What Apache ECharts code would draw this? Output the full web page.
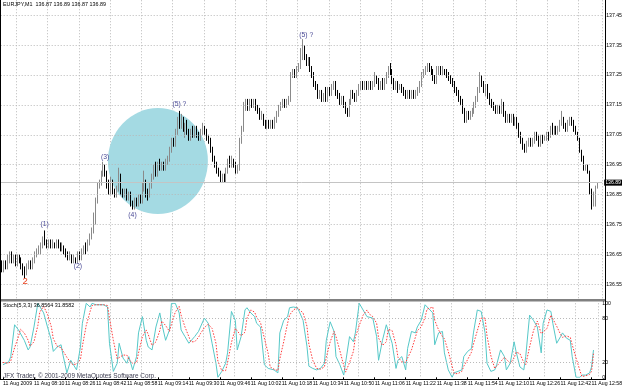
<!DOCTYPE html>
<html><head><meta charset="utf-8">
<script src="https://cdn.jsdelivr.net/npm/echarts@6/dist/echarts.min.js"></script>
<style>html,body{margin:0;padding:0;background:#fff}#c{width:625px;height:389px}</style>
</head><body><div id="c"></div>
<script>
// ---- data (EURJPY M1, 11 Aug 2009, bars from 07:54 to 12:59) ----
const startMinute = 7 * 60 + 54;
const barCount = 306;
const opens = [136.62,136.60,136.62,136.61,136.64,136.65,136.63,136.64,136.62,136.64,
136.63,136.61,136.59,136.58,136.61,136.62,136.61,136.63,136.65,136.66,
136.66,136.68,136.70,136.69,136.68,136.69,136.68,136.69,136.68,136.69,
136.68,136.67,136.68,136.66,136.65,136.64,136.65,136.63,136.64,136.63,
136.65,136.64,136.66,136.67,136.66,136.69,136.71,136.73,136.76,136.83,
136.88,136.89,136.92,136.94,136.92,136.88,136.86,136.89,136.86,136.85,
136.87,136.92,136.86,136.85,136.86,136.84,136.85,136.82,136.81,136.83,
136.82,136.84,136.83,136.88,136.90,136.86,136.85,136.88,136.91,136.93,
136.92,136.95,136.94,136.95,136.94,136.96,136.97,137.00,137.03,137.02,
137.06,137.10,137.08,137.11,137.07,137.08,137.06,137.04,137.06,137.05,
137.07,137.05,137.04,137.06,137.07,137.06,137.04,137.03,137.00,136.97,
136.95,136.93,136.92,136.90,136.91,136.90,136.93,136.96,136.95,136.97,
136.95,136.93,136.94,137.03,137.07,137.14,137.16,137.14,137.16,137.15,
137.16,137.14,137.13,137.11,137.12,137.09,137.08,137.09,137.08,137.09,
137.08,137.10,137.12,137.14,137.15,137.16,137.15,137.16,137.17,137.25,
137.26,137.25,137.27,137.28,137.32,137.34,137.31,137.29,137.30,137.27,
137.25,137.22,137.21,137.18,137.19,137.17,137.18,137.17,137.20,137.19,
137.21,137.22,137.19,137.18,137.16,137.17,137.15,137.13,137.12,137.16,
137.19,137.18,137.17,137.19,137.21,137.22,137.21,137.22,137.21,137.22,
137.21,137.22,137.24,137.23,137.21,137.22,137.21,137.23,137.25,137.27,
137.26,137.23,137.21,137.22,137.20,137.21,137.20,137.19,137.18,137.19,
137.18,137.19,137.18,137.19,137.20,137.22,137.25,137.26,137.27,137.28,
137.27,137.26,137.24,137.23,137.26,137.27,137.26,137.27,137.26,137.25,
137.24,137.23,137.22,137.20,137.19,137.17,137.16,137.13,137.10,137.12,
137.11,137.12,137.13,137.15,137.17,137.20,137.24,137.22,137.20,137.21,
137.18,137.16,137.15,137.14,137.13,137.14,137.13,137.15,137.12,137.10,
137.11,137.10,137.11,137.09,137.10,137.08,137.05,137.03,137.01,137.00,
137.02,137.03,137.02,137.03,137.05,137.04,137.02,137.04,137.03,137.04,
137.05,137.04,137.07,137.06,137.07,137.06,137.07,137.09,137.10,137.08,
137.07,137.09,137.10,137.09,137.07,137.06,137.04,137.00,136.97,136.94,
136.94,136.93,136.86,136.82,136.84,136.87];
const closes = [136.60,136.62,136.61,136.64,136.65,136.63,136.64,136.62,136.64,136.63,
136.61,136.59,136.58,136.61,136.62,136.61,136.63,136.65,136.66,136.66,
136.68,136.70,136.69,136.68,136.69,136.68,136.69,136.68,136.69,136.68,
136.67,136.68,136.66,136.65,136.64,136.65,136.63,136.64,136.63,136.65,
136.64,136.66,136.67,136.66,136.69,136.71,136.73,136.76,136.83,136.88,
136.89,136.92,136.94,136.92,136.88,136.86,136.89,136.86,136.85,136.87,
136.92,136.86,136.85,136.86,136.84,136.85,136.82,136.81,136.83,136.82,
136.84,136.83,136.88,136.90,136.86,136.85,136.88,136.91,136.93,136.92,
136.95,136.94,136.95,136.94,136.96,136.97,137.00,137.03,137.02,137.06,
137.10,137.08,137.11,137.07,137.08,137.06,137.04,137.06,137.05,137.07,
137.05,137.04,137.06,137.07,137.06,137.04,137.03,137.00,136.97,136.95,
136.93,136.92,136.90,136.91,136.90,136.93,136.96,136.95,136.97,136.95,
136.93,136.94,137.03,137.07,137.14,137.16,137.14,137.16,137.15,137.16,
137.14,137.13,137.11,137.12,137.09,137.08,137.09,137.08,137.09,137.08,
137.10,137.12,137.14,137.15,137.16,137.15,137.16,137.17,137.25,137.26,
137.25,137.27,137.28,137.32,137.34,137.31,137.29,137.30,137.27,137.25,
137.22,137.21,137.18,137.19,137.17,137.18,137.17,137.20,137.19,137.21,
137.22,137.19,137.18,137.16,137.17,137.15,137.13,137.12,137.16,137.19,
137.18,137.17,137.19,137.21,137.22,137.21,137.22,137.21,137.22,137.21,
137.22,137.24,137.23,137.21,137.22,137.21,137.23,137.25,137.27,137.26,
137.23,137.21,137.22,137.20,137.21,137.20,137.19,137.18,137.19,137.18,
137.19,137.18,137.19,137.20,137.22,137.25,137.26,137.27,137.28,137.27,
137.26,137.24,137.23,137.26,137.27,137.26,137.27,137.26,137.25,137.24,
137.23,137.22,137.20,137.19,137.17,137.16,137.13,137.10,137.12,137.11,
137.12,137.13,137.15,137.17,137.20,137.24,137.22,137.20,137.21,137.18,
137.16,137.15,137.14,137.13,137.14,137.13,137.15,137.12,137.10,137.11,
137.10,137.11,137.09,137.10,137.08,137.05,137.03,137.01,137.00,137.02,
137.03,137.02,137.03,137.05,137.04,137.02,137.04,137.03,137.04,137.05,
137.04,137.07,137.06,137.07,137.06,137.07,137.09,137.10,137.08,137.07,
137.09,137.10,137.09,137.07,137.06,137.04,137.00,136.97,136.94,136.94,
136.93,136.86,136.82,136.84,136.87,136.89];
const lows = [136.59,136.59,136.60,136.60,136.62,136.62,136.62,136.61,136.61,136.62,
136.60,136.58,136.57,136.58,136.60,136.60,136.60,136.62,136.64,136.65,
136.65,136.67,136.68,136.67,136.67,136.67,136.67,136.67,136.67,136.67,
136.66,136.66,136.65,136.64,136.63,136.63,136.62,136.62,136.62,136.62,
136.63,136.63,136.65,136.65,136.66,136.68,136.70,136.72,136.75,136.82,
136.87,136.88,136.91,136.91,136.87,136.85,136.85,136.85,136.84,136.84,
136.86,136.85,136.84,136.84,136.83,136.83,136.81,136.80,136.80,136.81,
136.81,136.82,136.82,136.86,136.84,136.83,136.84,136.87,136.90,136.91,
136.91,136.93,136.93,136.93,136.93,136.95,136.96,136.99,137.01,137.01,
137.05,137.07,137.07,137.06,137.04,137.05,137.03,137.03,137.04,137.04,
137.04,137.03,137.03,137.05,137.05,137.03,137.02,136.99,136.96,136.94,
136.92,136.91,136.89,136.89,136.89,136.89,136.92,136.94,136.94,136.94,
136.92,136.92,136.93,137.02,137.06,137.13,137.13,137.13,137.14,137.14,
137.13,137.12,137.10,137.10,137.08,137.07,137.07,137.07,137.07,137.07,
137.07,137.09,137.11,137.13,137.14,137.14,137.14,137.15,137.16,137.24,
137.24,137.24,137.26,137.27,137.30,137.30,137.28,137.28,137.26,137.24,
137.21,137.20,137.17,137.17,137.16,137.16,137.16,137.16,137.18,137.18,
137.20,137.18,137.17,137.15,137.15,137.14,137.12,137.11,137.11,137.15,
137.17,137.16,137.16,137.18,137.20,137.20,137.20,137.20,137.20,137.20,
137.20,137.21,137.22,137.20,137.20,137.20,137.20,137.22,137.24,137.25,
137.22,137.20,137.20,137.19,137.20,137.19,137.18,137.17,137.17,137.17,
137.17,137.17,137.17,137.18,137.19,137.21,137.24,137.25,137.26,137.26,
137.25,137.23,137.22,137.22,137.25,137.25,137.25,137.25,137.24,137.23,
137.22,137.21,137.19,137.18,137.16,137.15,137.12,137.09,137.09,137.10,
137.10,137.11,137.12,137.14,137.16,137.19,137.21,137.19,137.18,137.17,
137.15,137.14,137.13,137.12,137.12,137.12,137.12,137.11,137.09,137.09,
137.09,137.09,137.08,137.08,137.07,137.04,137.02,137.00,136.99,136.99,
137.01,137.01,137.01,137.02,137.03,137.01,137.01,137.02,137.03,137.03,
137.03,137.04,137.05,137.05,137.05,137.05,137.06,137.08,137.07,137.06,
137.06,137.08,137.08,137.06,137.05,137.03,136.99,136.96,136.93,136.93,
136.92,136.85,136.80,136.81,136.81,136.87];
const highs = [136.63,136.63,136.63,136.65,136.66,136.66,136.65,136.65,136.65,136.65,
136.64,136.62,136.61,136.62,136.63,136.63,136.64,136.66,136.67,136.68,
136.69,136.71,136.73,136.70,136.70,136.70,136.70,136.69,136.70,136.70,
136.69,136.69,136.68,136.67,136.66,136.66,136.65,136.65,136.64,136.66,
136.66,136.67,136.68,136.69,136.70,136.72,136.74,136.79,136.84,136.89,
136.90,136.93,136.96,136.95,136.93,136.90,136.91,136.90,136.87,136.88,
136.94,136.92,136.87,136.87,136.87,136.86,136.86,136.83,136.84,136.84,
136.85,136.85,136.89,136.93,136.90,136.87,136.89,136.92,136.95,136.96,
136.96,136.97,136.96,136.96,136.97,136.98,137.01,137.04,137.04,137.07,
137.11,137.13,137.12,137.11,137.09,137.10,137.07,137.07,137.08,137.08,
137.08,137.06,137.07,137.09,137.08,137.07,137.05,137.04,137.01,136.98,
136.96,136.94,136.93,136.92,136.92,136.94,136.97,136.98,136.98,136.97,
136.96,136.95,137.04,137.08,137.16,137.17,137.17,137.17,137.17,137.17,
137.17,137.15,137.14,137.13,137.12,137.10,137.10,137.10,137.10,137.10,
137.11,137.13,137.15,137.16,137.17,137.17,137.17,137.18,137.26,137.27,
137.27,137.28,137.29,137.34,137.37,137.35,137.32,137.31,137.31,137.28,
137.26,137.23,137.22,137.20,137.20,137.19,137.21,137.21,137.21,137.22,
137.23,137.23,137.20,137.19,137.18,137.18,137.16,137.14,137.17,137.20,
137.20,137.19,137.20,137.22,137.23,137.23,137.23,137.23,137.23,137.23,
137.23,137.26,137.25,137.24,137.23,137.24,137.24,137.26,137.28,137.29,
137.27,137.24,137.23,137.23,137.22,137.22,137.21,137.20,137.20,137.20,
137.20,137.20,137.20,137.21,137.23,137.26,137.27,137.28,137.29,137.29,
137.28,137.27,137.25,137.28,137.28,137.28,137.28,137.27,137.27,137.26,
137.25,137.24,137.23,137.21,137.20,137.18,137.17,137.14,137.13,137.13,
137.13,137.14,137.16,137.18,137.21,137.26,137.25,137.23,137.22,137.22,
137.19,137.17,137.16,137.15,137.15,137.15,137.17,137.16,137.13,137.12,
137.12,137.12,137.12,137.11,137.11,137.09,137.06,137.04,137.02,137.03,
137.04,137.04,137.04,137.06,137.06,137.05,137.05,137.05,137.05,137.06,
137.06,137.08,137.09,137.08,137.08,137.08,137.10,137.13,137.11,137.09,
137.10,137.11,137.11,137.10,137.08,137.06,137.04,137.00,136.98,136.95,
136.95,136.93,136.87,136.86,136.88,136.89];
const priceTicks = [136.55,136.65,136.75,136.85,136.95,137.05,137.15,137.25,137.35,137.45];
const lastPrice = 136.89;

// Stochastic (5,3,3) readings: bar number since 07:54, %K, %D
const stochBar = [0,3,4,6,8,9,11,13,14,16,
18,19,21,23,25,26,28,30,31,33,
35,36,38,40,41,43,45,46,48,52,
54,55,57,59,60,62,64,65,67,69,
70,72,74,75,77,79,81,82,84,86,
87,89,91,92,94,96,97,99,101,102,
104,106,108,110,111,113,115,116,118,120,
121,123,125,126,128,130,131,133,135,137,
138,140,142,143,145,147,148,150,152,153,
155,157,158,160,162,164,166,167,169,171,
172,174,176,177,179,181,182,184,186,188,
189,191,193,194,196,198,199,201,203,204,
206,208,209,211,213,214,216,218,219,222,
223,225,227,228,230,232,233,235,237,238,
240,242,243,245,247,249,250,252,254,255,
257,259,260,262,264,265,267,269,270,272,
274,276,278,279,281,283,284,286,288,289,
291,293,294,296,298,299,301,303,304,305];
const stochK = [17,21,28,71,64,62,50,37,41,68,
100,98,87,68,50,35,41,44,30,6,
23,21,10,41,73,100,95,100,98,98,
95,46,8,19,46,26,19,28,10,28,
60,82,50,41,37,68,87,73,50,64,
100,100,87,64,55,46,44,55,62,60,
80,73,46,19,0,8,19,33,89,77,
37,55,91,94,87,82,73,68,17,12,
12,10,6,60,77,82,94,95,94,89,
77,42,15,12,10,12,19,50,75,62,
28,17,3,1,55,48,60,100,91,82,
84,80,55,23,50,71,73,46,12,23,
28,10,39,62,60,68,77,98,100,87,
44,60,62,33,10,0,6,8,10,28,
35,39,60,91,89,60,19,8,10,17,
37,28,10,19,48,35,14,10,28,84,
77,68,33,73,91,89,73,46,55,60,
53,50,28,0,0,3,3,6,14,36.86];
const stochD = [20,19,22,40,55,65,60,50,42,48,
70,88,96,85,68,52,42,40,38,27,
20,17,18,24,42,70,89,97,98,98,
97,80,50,25,24,30,30,24,19,20,
33,55,64,58,43,48,63,76,70,62,
72,88,96,84,68,55,48,48,54,59,
67,72,66,46,22,9,9,20,47,66,
68,56,61,80,91,88,81,74,53,32,
14,11,9,25,48,73,84,91,94,93,
87,69,45,23,12,11,14,27,48,62,
55,36,16,7,20,35,54,70,84,91,
86,82,73,53,43,48,65,63,44,27,
21,20,26,37,54,63,68,81,92,95,
77,64,55,52,35,15,5,5,8,15,
24,34,45,63,80,80,56,29,12,12,
21,27,25,19,26,34,32,20,17,41,
63,76,59,58,66,84,84,69,58,54,
56,54,44,26,9,1,2,4,8,31.86];
const stochLevels = [20, 80];
const stochTicks = [0, 20, 80, 100];

// annotations (bar number, price)
const annText = ['2', '(1)', '(2)', '(3)', '(4)', '(5) ?', '(5) ?'];
const annBar = [12, 22, 39, 53, 67, 91, 156];
const annPrice = [136.559, 136.75, 136.61, 136.976, 136.78, 137.151, 137.385];
const annColor = ['#e8401c', '#4a4a96', '#4a4a96', '#4a4a96', '#4a4a96', '#4a4a96', '#4a4a96'];
const circleBar = 79.5, circlePrice = 136.962;

// ---- build ----
const times = [];
for (let i = 0; i < barCount + 2; i++) {
  const m = startMinute + i;
  times.push(String(Math.floor(m / 60)).padStart(2, '0') + ':' + String(m % 60).padStart(2, '0'));
}
const candles = opens.map((o, i) => [o, closes[i], lows[i], highs[i]]);
const kData = stochBar.map((b, j) => [b, stochK[j]]);
const dData = stochBar.map((b, j) => [b, stochD[j]]);
const FONT = 'Liberation Sans';
const gridDot = { color: '#b8b8b8', type: [1, 2], width: 1 };
const gl = 0.7, gw = 605.2;

const chart = echarts.init(document.getElementById('c'), null, { renderer: 'canvas' });
chart.setOption({
  animation: false,
  backgroundColor: '#ffffff',
  grid: [
    { left: gl, width: gw, top: 0.25, height: 299 },
    { left: gl, width: gw, top: 303.3, height: 74 }
  ],
  xAxis: [
    { type: 'category', gridIndex: 0, data: times, boundaryGap: true,
      axisLine: { show: false }, axisTick: { show: false }, axisLabel: { show: false },
      splitLine: { show: true, interval: (i) => i % 16 === 8, lineStyle: gridDot } },
    { type: 'category', gridIndex: 1, data: times, boundaryGap: true, offset: 2.2,
      axisLine: { show: false },
      axisTick: { show: true, alignWithLabel: true, interval: (i) => i % 16 === 0, length: 2, lineStyle: { color: '#000' } },
      axisLabel: { show: true, interval: (i) => i % 16 === 0, align: 'left', margin: 1.5,
        fontSize: 5.2, color: '#000', fontFamily: FONT,
        formatter: (v, i) => i === 0 ? '11 Aug 2009' : '11 Aug ' + v },
      splitLine: { show: true, interval: (i) => i % 16 === 8, lineStyle: gridDot } }
  ],
  yAxis: [
    { type: 'value', gridIndex: 0, position: 'right', min: 136.5, max: 137.5, interval: 0.05,
      axisLine: { show: false }, axisTick: { show: false }, splitLine: { show: false },
      axisLabel: { margin: 4, fontSize: 5.2, color: '#000', fontFamily: FONT,
        formatter: (v) => (Math.round(v * 100) % 10 === 5) ? v.toFixed(2) : '' } },
    { type: 'value', gridIndex: 1, position: 'right', min: 0, max: 100, interval: 20,
      axisLine: { show: false }, axisTick: { show: false }, splitLine: { show: false },
      axisLabel: { margin: 4, fontSize: 5.2, color: '#000', fontFamily: FONT,
        formatter: (v) => stochTicks.includes(v) ? String(v) : '' } }
  ],
  series: [
    { type: 'line', xAxisIndex: 0, yAxisIndex: 0, data: closes, z: 0, silent: true,
      showSymbol: false, lineStyle: { opacity: 0 },
      markLine: { symbol: 'none', silent: true, label: { show: false }, lineStyle: gridDot,
        data: priceTicks.map(p => ({ yAxis: p })) } },
    { type: 'scatter', xAxisIndex: 0, yAxisIndex: 0, z: 1, silent: true,
      data: [[circleBar, circlePrice]], symbol: 'circle', symbolSize: [100, 106],
      itemStyle: { color: '#a4dae3', opacity: 1 } },
    { type: 'candlestick', xAxisIndex: 0, yAxisIndex: 0, z: 3, data: candles, barWidth: 1,
      itemStyle: { color: '#8a8a8a', color0: '#000000', borderColor: '#8a8a8a', borderColor0: '#000000', borderWidth: 1 },
      markLine: { symbol: 'none', silent: true,
        lineStyle: { color: '#c4c4c4', type: 'solid', width: 1 },
        label: { show: true, position: 'end', distance: 2, formatter: lastPrice.toFixed(2),
          backgroundColor: '#000', color: '#fff', fontSize: 5.2, fontFamily: FONT, padding: [1, 1, 0, 1] },
        data: [{ yAxis: lastPrice }] },
      markPoint: { symbol: 'rect', symbolSize: 1, silent: true, itemStyle: { color: 'rgba(0,0,0,0)' },
        data: annText.map((t, j) => ({ coord: [annBar[j], annPrice[j]], value: t,
          label: { show: true, position: 'inside', formatter: t, color: annColor[j],
            fontSize: j === 0 ? 9.5 : 6.8, fontFamily: FONT } })) } },
    { type: 'line', xAxisIndex: 1, yAxisIndex: 1, data: kData, showSymbol: false, z: 3,
      lineStyle: { color: '#56c8c8', width: 1 },
      markLine: { symbol: 'none', silent: true, label: { show: false }, lineStyle: gridDot,
        data: stochLevels.map(v => ({ yAxis: v })) } },
    { type: 'line', xAxisIndex: 1, yAxisIndex: 1, data: dData, showSymbol: false, z: 4,
      lineStyle: { color: '#ff3a3a', width: 1, type: [1.5, 1.5] } }
  ],
  graphic: [
    { type: 'rect', z: 50, shape: { x: 0, y: 299, width: 606, height: 2.6 }, style: { fill: '#808080' } },
    { type: 'line', z: 50, shape: { x1: 605.5, y1: 0, x2: 605.5, y2: 380 }, style: { stroke: '#000', lineWidth: 1 } },
    { type: 'line', z: 50, shape: { x1: 0.5, y1: 0, x2: 0.5, y2: 380 }, style: { stroke: '#000', lineWidth: 1 } },
    { type: 'line', z: 50, shape: { x1: 0, y1: 379.5, x2: 606, y2: 379.5 }, style: { stroke: '#000', lineWidth: 1 } },
    { type: 'text', z: 50, left: 3, top: 2.5, style: { text: 'EURJPY,M1  136.87 136.89 136.87 136.89', fontSize: 5.4, fontFamily: FONT, fill: '#000' } },
    { type: 'text', z: 50, left: 3, top: 303, style: { text: 'Stoch(5,3,3) 36.8564 31.8582', fontSize: 5.4, fontFamily: FONT, fill: '#000' } },
    { type: 'text', z: 50, left: 3, top: 373, style: { text: 'JFX Trader, © 2001-2009 MetaQuotes Software Corp.', fontSize: 6.4, fontFamily: FONT, fill: '#3c3c50' } }
  ]
});
</script>
</body></html>
